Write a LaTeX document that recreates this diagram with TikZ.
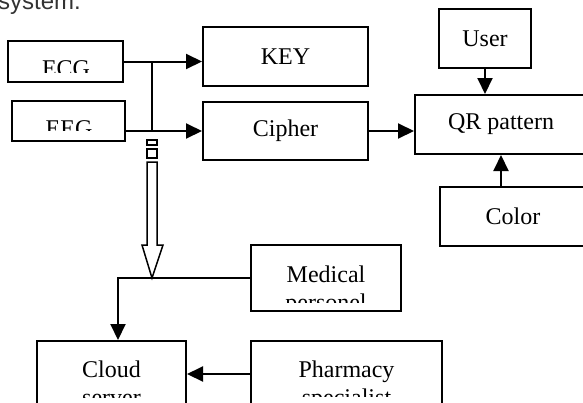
\documentclass[tikz,border=0pt]{standalone}
\usepackage{fontspec}
\setmainfont{Liberation Serif}
\newfontfamily\captionfont{Liberation Sans}
\usetikzlibrary{arrows.meta}

\tikzset{
	blk/.style={draw, line width=2pt, inner sep=0pt, font=\fontsize{24}{28}\selectfont},
	lbl/.style={align=center, inner sep=0pt, font=\fontsize{24}{28}\selectfont},
	arr/.style={line width=2pt, -{Triangle[length=16pt,width=15pt]}},
}

\newcommand{\cliplabel}[4]{%
	\begin{scope}
		\clip (#1.north west) rectangle (#1.east |- 0,#3);
		\node[lbl, anchor=base] (#1-text) at #2 {#4};
	\end{scope}}

\begin{document}
\begin{tikzpicture}[x=1pt,y=-1pt]
	\useasboundingbox (0,0) rectangle (583,402);
	\node[anchor=base west, inner sep=0pt, text=black!80, font=\captionfont\fontsize{24}{28}\selectfont] (cap) at (-2,9) {system.};

	\node[blk, minimum width=115pt, minimum height=41pt] (ecg) at (65.5,61.5) {};
	\node[blk, minimum width=113pt, minimum height=40pt] (eeg) at (68.5,121) {};
	\node[blk, minimum width=165pt, minimum height=59pt] (key) at (285.5,56.5) {KEY};
	\node[blk, minimum width=165pt, minimum height=58pt] (cipher) at (285.5,131) {Cipher};
	\node[blk, minimum width=172pt, minimum height=59pt] (qr) at (501,124.5) {QR pattern};
	\node[blk, minimum width=92pt, minimum height=59pt] (user) at (485,38.5) {User};
	\node[blk, minimum width=146pt, minimum height=59pt] (color) at (513,216.5) {Color};
	\node[blk, minimum width=150pt, minimum height=66pt] (medical) at (326,278) {};
	\node[blk, minimum width=149pt, minimum height=66pt] (cloud) at (111.5,374) {};
	\node[blk, minimum width=191pt, minimum height=66pt] (pharmacy) at (346.5,374) {};

	\cliplabel{ecg}{(66,76)}{72}{ECG}
	\cliplabel{eeg}{(69,136)}{130}{EEG}
	\cliplabel{medical}{(326,310)}{302}{Medical\\personel}
	\cliplabel{cloud}{(111.5,405)}{397}{Cloud\\server}
	\cliplabel{pharmacy}{(346.5,405)}{396}{Pharmacy\\specialist}

	\coordinate (tap) at (152,95);
	\coordinate (drop) at (118,280);

	\draw[arr] (ecg.east) -- (ecg.east -| key.west);
	\draw[arr] (eeg.east |- cipher.west) -- (cipher.west);
	\draw[line width=2pt] (tap |- ecg.east) -- (tap |- cipher.west);
	\draw[arr] (cipher.east) -- (cipher.east -| qr.west);
	\draw[arr] (user.south) -- (user.south |- qr.north);
	\draw[arr] (qr.south |- color.north) -- (qr.south);

	\draw[line width=1.5pt] (147,140) rectangle (157,145);
	\draw[line width=1.5pt] (147,149) rectangle (157,158);
	\draw[line width=1.5pt, fill=white] (147,162) -- (147,245) -- (142,245) -- (152,278) -- (163,245) -- (157,245) -- (157,162) -- cycle;

	\draw[arr] (medical.west) -| (drop |- cloud.north);
	\draw[arr] (pharmacy.west) -- (pharmacy.west -| cloud.east);
\end{tikzpicture}
\end{document}
